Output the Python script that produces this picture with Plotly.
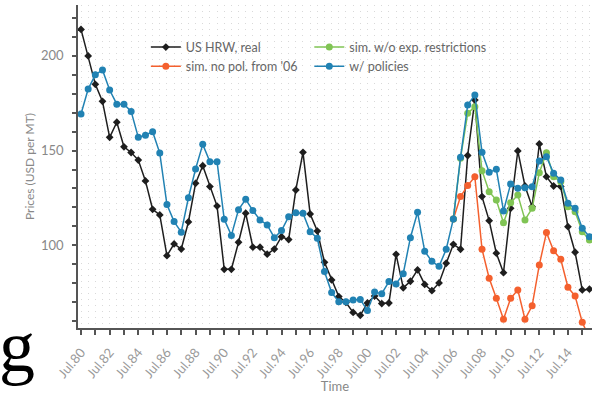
import plotly.graph_objects as go

# ---------------- data (semi-annual, Jul.80 ... Jan.16) ----------------
time = [1980.5 + 0.5 * k for k in range(72)]

us_hrw_real = [
    214.0, 200.0, 185.0, 176.0, 157.0, 165.0, 152.0, 149.0, 145.0, 134.0,
    119.0, 116.0, 94.5, 100.7, 98.0, 112.3, 132.7, 142.0, 131.0, 120.7,
    87.3, 87.3, 101.6, 116.9, 99.0, 99.0, 95.3, 98.0, 104.5, 103.0,
    129.2, 149.1, 116.5, 107.5, 91.0, 81.7, 72.9, 69.8, 64.5, 63.0,
    69.5, 73.2, 69.2, 69.5, 95.2, 77.5, 81.0, 87.0, 79.3, 76.0,
    80.1, 90.5, 100.5, 97.9, 147.4, 176.7, 125.7, 113.0, 95.8, 85.5,
    119.5, 149.8, 131.3, 120.4, 153.5, 136.2, 131.3, 131.0, 109.8, 96.3,
    76.4, 76.8,
]

w_policies = [
    169.3, 182.5, 190.0, 192.6, 182.0, 174.5, 174.5, 170.7, 157.0, 158.1,
    160.0, 148.7, 121.5, 112.5, 106.9, 125.1, 140.3, 153.3, 144.1, 144.1,
    113.7, 105.2, 118.8, 124.3, 118.3, 113.4, 110.7, 104.0, 107.8, 115.1,
    117.2, 116.9, 107.2, 103.7, 86.1, 75.0, 70.2, 70.2, 71.1, 71.4,
    65.5, 75.3, 74.4, 80.8, 79.6, 85.0, 104.0, 117.4, 96.8, 91.5,
    88.9, 97.9, 113.9, 146.5, 174.1, 179.4, 149.1, 138.5, 140.1, 118.1,
    132.4, 130.1, 130.4, 130.9, 144.5, 146.8, 138.0, 134.5, 122.2, 119.5,
    109.0, 104.5,
]

# simulations start in Jan.06 (index 52)
sim_start = 52
time_sim = time[sim_start:]

sim_no_pol = [
    113.9, 125.7, 131.5, 136.2, 97.9, 82.6, 72.0, 60.9, 72.0, 76.4,
    60.9, 68.0, 89.6, 106.7, 97.1, 92.6, 77.8, 73.2, 59.3, 51.0,
]

sim_wo_exp = [
    113.9, 146.0, 169.7, 173.2, 139.4, 128.3, 123.9, 111.9, 122.5, 126.6,
    113.4, 119.5, 138.3, 148.9, 136.2, 133.6, 120.4, 117.7, 107.2, 102.8,
]

tick_years = list(range(1980, 2016))
tick_vals = [y + 0.5 for y in tick_years]
tick_text = [("Jul.%02d" % (y % 100)) if y % 2 == 0 else "" for y in tick_years]

# ---------------- styling ----------------
FONT = "Lato"
C_BLACK = "#1e1e1e"
C_ORANGE = "#f4602e"
C_GREEN = "#80c454"
C_BLUE = "#2182b3"
LW = 1.5
GRID = "#d9d9d9"
GRID_DASH = "1px,5px"

fig = go.Figure()

fig.add_trace(go.Scatter(
    x=time, y=us_hrw_real, name="US HRW, real", mode="lines+markers",
    line=dict(color=C_BLACK, width=LW),
    marker=dict(symbol="diamond", size=6, color=C_BLACK),
    legend="legend",
))
fig.add_trace(go.Scatter(
    x=time_sim, y=sim_no_pol, name="sim. no pol. from '06", mode="lines+markers",
    line=dict(color=C_ORANGE, width=LW),
    marker=dict(symbol="circle", size=7, color=C_ORANGE),
    legend="legend",
))
fig.add_trace(go.Scatter(
    x=time_sim, y=sim_wo_exp, name="sim. w/o exp. restrictions", mode="lines+markers",
    line=dict(color=C_GREEN, width=LW),
    marker=dict(symbol="circle", size=7, color=C_GREEN),
    legend="legend2",
))
fig.add_trace(go.Scatter(
    x=time, y=w_policies, name="w/ policies", mode="lines+markers",
    line=dict(color=C_BLUE, width=LW),
    marker=dict(symbol="circle", size=7, color=C_BLUE),
    legend="legend2",
))

legend_common = dict(
    xanchor="left", yanchor="top", bgcolor="rgba(0,0,0,0)",
    font=dict(family=FONT, size=12.5, color="#666666"),
    tracegroupgap=0, itemwidth=30,
)

fig.update_layout(
    width=595, height=394,
    margin=dict(l=78, r=3, t=5, b=66),
    paper_bgcolor="white", plot_bgcolor="white",
    font=dict(family=FONT, color="#888888"),
    showlegend=True,
    legend=dict(x=0.132, y=0.915, **legend_common),
    legend2=dict(x=0.45, y=0.915, **legend_common),
    xaxis=dict(
        range=[1980.29, 2016.18], automargin=False,
        tickmode="array", tickvals=tick_vals, ticktext=tick_text,
        tickangle=-50,
        tickfont=dict(family=FONT, size=13, color="#999999"),
        ticks="outside", ticklen=5, tickwidth=1.5, tickcolor="#555555",
        ticklabelstandoff=5,
        showline=True, linecolor="#555555", linewidth=1.5,
        showgrid=True, gridcolor=GRID, griddash=GRID_DASH, gridwidth=1,
        minor=dict(tick0=1980.5, dtick=0.5, showgrid=True, gridcolor=GRID,
                   griddash=GRID_DASH, gridwidth=1, ticks=""),
        zeroline=False,
        title=dict(text="Time", font=dict(family=FONT, size=13, color="#888888"), standoff=6),
    ),
    yaxis=dict(
        range=[56.3, 226.9], automargin=False,
        tick0=0, dtick=50,
        tickfont=dict(family=FONT, size=13, color="#888888"),
        ticks="outside", ticklen=4, tickwidth=1.5, tickcolor="#555555",
        ticklabelstandoff=6,
        minor=dict(tick0=0, dtick=10, ticks="outside", ticklen=4, tickwidth=1.5,
                   tickcolor="#555555", showgrid=False),
        showline=True, linecolor="#555555", linewidth=1.5,
        showgrid=False, zeroline=False,
        title=dict(text="Prices (USD per MT)", font=dict(family=FONT, size=12, color="#888888"), standoff=4),
    ),
    annotations=[
        dict(text="g", xref="paper", yref="paper", x=-0.118, y=-0.058,
             xanchor="center", yanchor="middle", showarrow=False,
             font=dict(family="Liberation Serif", size=72, color="black")),
    ],
)

fig.write_html("out.html")
